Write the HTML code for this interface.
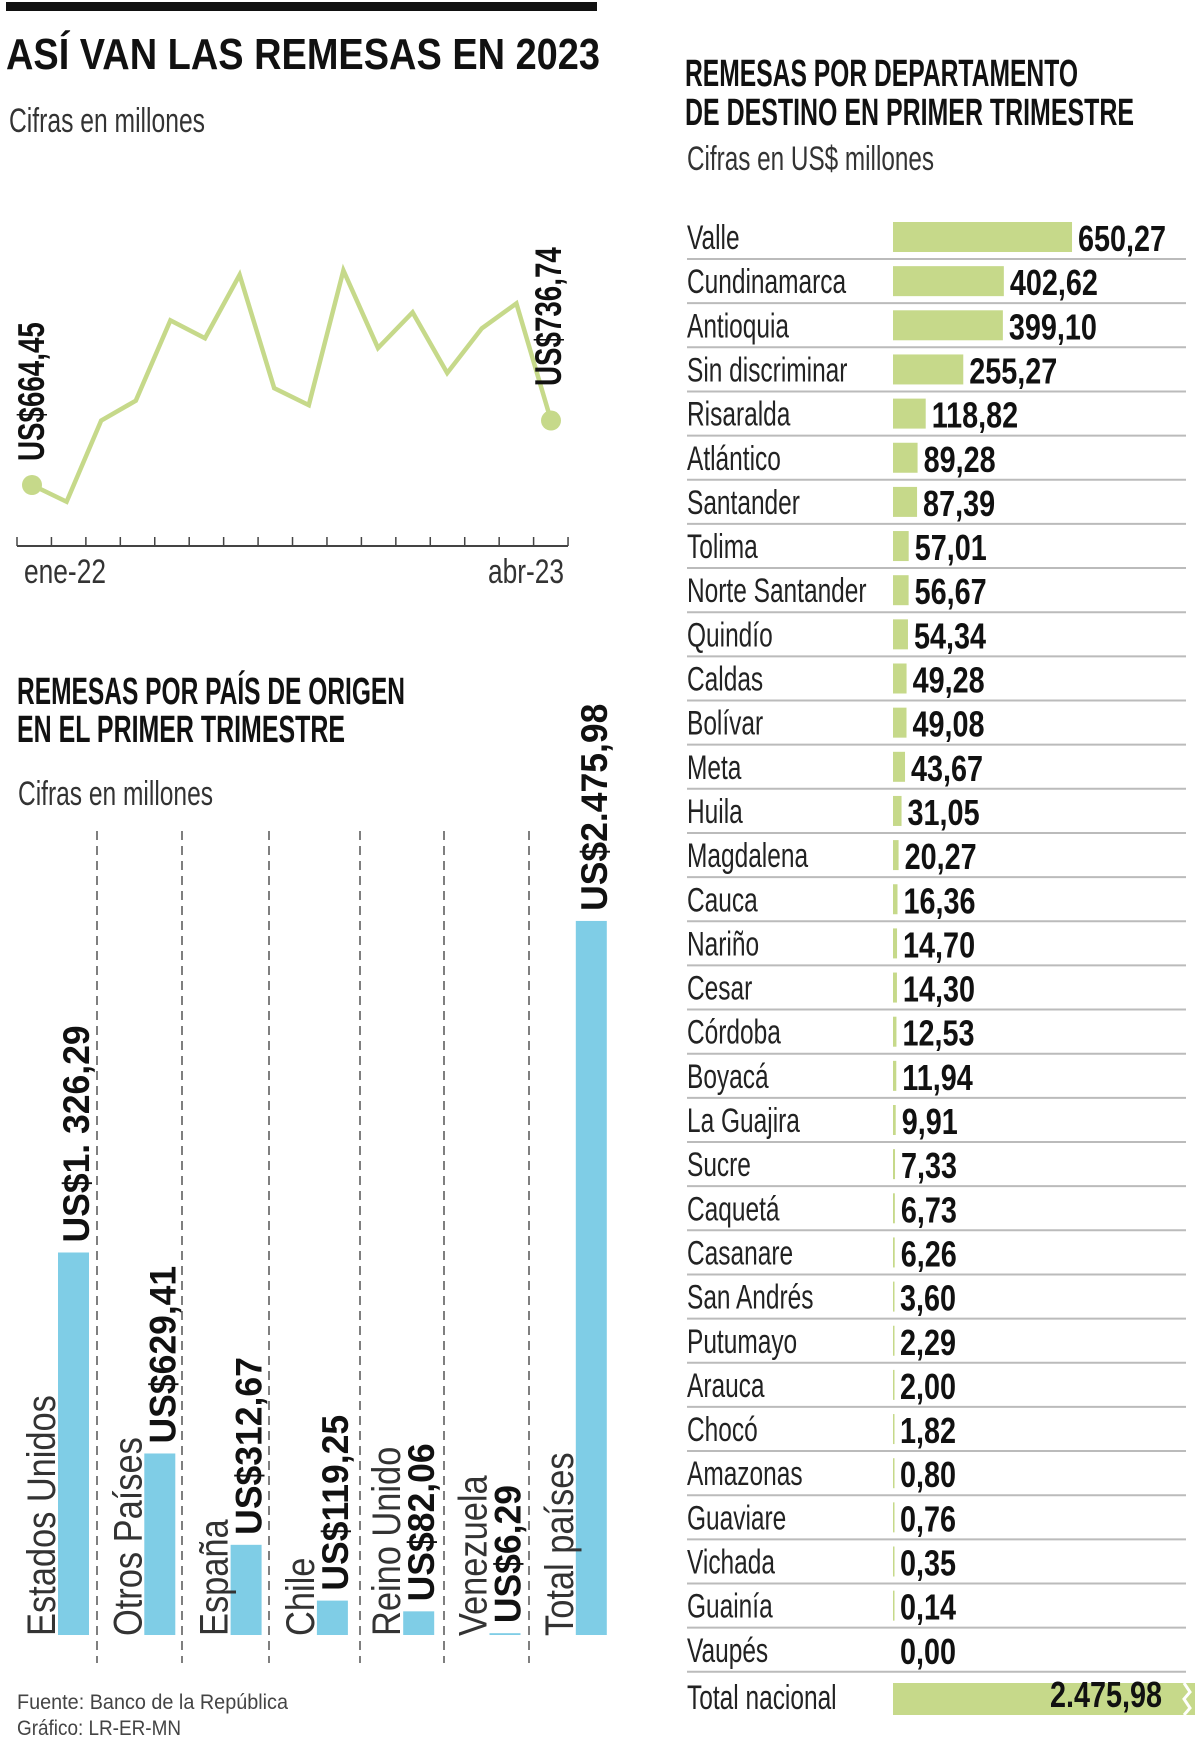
<!DOCTYPE html>
<html><head><meta charset="utf-8"><style>
html,body{margin:0;padding:0;background:#fff;}
svg{display:block;font-family:"Liberation Sans",sans-serif;}
</style></head><body>
<svg id="chart" width="1200" height="1758" viewBox="0 0 1200 1758">
<rect x="6" y="2" width="591" height="9" fill="#111"/>
<text x="6" y="69" font-size="44" font-weight="bold" fill="#111" textLength="594" lengthAdjust="spacingAndGlyphs">ASÍ VAN LAS REMESAS EN 2023</text>
<text x="9" y="132" font-size="34" fill="#333" textLength="196" lengthAdjust="spacingAndGlyphs">Cifras en millones</text>
<g id="line"></g>
<text x="17" y="704" font-size="38" font-weight="bold" fill="#111" textLength="388" lengthAdjust="spacingAndGlyphs">REMESAS POR PAÍS DE ORIGEN</text>
<text x="17" y="742" font-size="38" font-weight="bold" fill="#111" textLength="328" lengthAdjust="spacingAndGlyphs">EN EL PRIMER TRIMESTRE</text>
<text x="18" y="805" font-size="34" fill="#333" textLength="195" lengthAdjust="spacingAndGlyphs">Cifras en millones</text>
<g id="bars"></g>
<text x="17" y="1709" font-size="21" fill="#444" textLength="271" lengthAdjust="spacingAndGlyphs">Fuente: Banco de la República</text>
<text x="17" y="1735" font-size="21" fill="#444" textLength="164" lengthAdjust="spacingAndGlyphs">Gráfico: LR-ER-MN</text>
<text x="685" y="86" font-size="38" font-weight="bold" fill="#111" textLength="393" lengthAdjust="spacingAndGlyphs">REMESAS POR DEPARTAMENTO</text>
<text x="685" y="125" font-size="38" font-weight="bold" fill="#111" textLength="449" lengthAdjust="spacingAndGlyphs">DE DESTINO EN PRIMER TRIMESTRE</text>
<text x="687" y="170" font-size="34" fill="#333" textLength="247" lengthAdjust="spacingAndGlyphs">Cifras en US$ millones</text>
<g id="dept"></g>
</svg>
<script>
// Line chart data
const lineMonths = ["ene-22","feb-22","mar-22","abr-22","may-22","jun-22","jul-22","ago-22","sep-22","oct-22","nov-22","dic-22","ene-23","feb-23","mar-23","abr-23"];
const lineValues = [664.45,645.7,736.7,759,849,829,900,773,754,905,818,858,790,840,868,736.74];
const lineTickLabels = ["ene-22","abr-23"];
const lineEndLabels = ["US$664,45","US$736,74"];
// Origin bars
const originCountries = ["Estados Unidos","Otros Países","España","Chile","Reino Unido","Venezuela","Total países"];
const originValues = [1326.29,629.41,312.67,119.25,82.06,6.29,2475.98];
const originLabels = ["US$1. 326,29","US$629,41","US$312,67","US$119,25","US$82,06","US$6,29","US$2.475,98"];
// Departments
const deptNames = ["Valle","Cundinamarca","Antioquia","Sin discriminar","Risaralda","Atlántico","Santander","Tolima","Norte Santander","Quindío","Caldas","Bolívar","Meta","Huila","Magdalena","Cauca","Nariño","Cesar","Córdoba","Boyacá","La Guajira","Sucre","Caquetá","Casanare","San Andrés","Putumayo","Arauca","Chocó","Amazonas","Guaviare","Vichada","Guainía","Vaupés"];
const deptValues = [650.27,402.62,399.10,255.27,118.82,89.28,87.39,57.01,56.67,54.34,49.28,49.08,43.67,31.05,20.27,16.36,14.70,14.30,12.53,11.94,9.91,7.33,6.73,6.26,3.60,2.29,2.00,1.82,0.80,0.76,0.35,0.14,0.00];
const deptTotalLabel = "Total nacional";
const deptTotalValue = 2475.98;

const NS="http://www.w3.org/2000/svg";
function mk(tag,attrs,parent){const e=document.createElementNS(NS,tag);for(const k in attrs)e.setAttribute(k,attrs[k]);parent.appendChild(e);return e;}
function fmt(v){return v.toFixed(2).replace('.',',');}
function fmtThousands(v){const p=v.toFixed(2).split('.');return p[0].replace(/\B(?=(\d{3})+(?!\d))/g,'.')+','+p[1];}

// ---- line chart
const lg=document.getElementById('line');
const lx=i=>32+34.6*i;
const ly=v=>485-(v-664.45)*0.892;
const axis=mk('line',{x1:17,y1:546,x2:568,y2:546,stroke:'#444','stroke-width':2},lg);


for(let k=0;k<=lineMonths.length;k++){
  const t=mk('line',{x1:17+34.44*k,y1:537,x2:17+34.44*k,y2:546,stroke:'#444','stroke-width':1.5},lg);
  
  
}
const pl=mk('polyline',{points:lineValues.map((v,i)=>lx(i)+','+ly(v)).join(' '),fill:'none',stroke:'#c6d98a','stroke-width':4.5,'stroke-linejoin':'miter'},lg);


[0,lineValues.length-1].forEach((i,j)=>{
  const c=mk('circle',{cx:lx(i),cy:ly(lineValues[i]),r:10,fill:'#c6d98a'},lg);
  
  
  const bx=j===0?44:561, by=j===0?461:386;
  const t=mk('text',{transform:`translate(${bx},${by}) rotate(-90) scale(0.75,1)`,'font-size':37,'font-weight':'bold',fill:'#111'},lg);
  t.textContent=lineEndLabels[j];
  
  
});
[[0,24,82],[lineMonths.length-1,488,76]].forEach(([i,x,w],j)=>{
  const t=mk('text',{x:x,y:583,'font-size':34,fill:'#333',textLength:w,lengthAdjust:'spacingAndGlyphs'},lg);
  t.textContent=lineTickLabels[j];
  
  
});

// ---- origin bars
const bg=document.getElementById('bars');
const base=1635, scaleB=0.2884;
[97,182,269,360,444,529].forEach(x=>{
  const d=mk('line',{x1:x,y1:831,x2:x,y2:1663,stroke:'#555','stroke-width':1.5,'stroke-dasharray':'9,6'},bg);
  
  
});
originCountries.forEach((c,i)=>{
  const x=58+86.3*i, w=31, h=originValues[i]*scaleB;
  const r=mk('rect',{x:x,y:base-h,width:w,height:h,fill:'#7fcde6'},bg);
  
  
  const lt=mk('text',{transform:`translate(${x-3},1636) rotate(-90) scale(0.86,1)`,'font-size':40,fill:'#333'},bg);
  lt.textContent=c;
  
  
  const vt=mk('text',{transform:`translate(${x+w},${base-h-10}) rotate(-90) scale(0.96,1)`,'font-size':37,'font-weight':'bold',fill:'#111'},bg);
  vt.textContent=originLabels[i];
  
  
});

// ---- departments
const dg=document.getElementById('dept');
const dx0=893, ds=0.2753, pitch=44.15, sep0=259;
deptNames.forEach((n,i)=>{
  const sy=sep0+pitch*i;
  const s=mk('line',{x1:687,y1:sy,x2:1186,y2:sy,stroke:'#bbb','stroke-width':2},dg);
  
  
  const nt=mk('text',{transform:`translate(687,${sy-10}) scale(0.72,1)`,'font-size':34,fill:'#222'},dg);
  nt.textContent=n;
  
  
  const w=deptValues[i]*ds;
  const r=mk('rect',{x:dx0,y:sy-37,width:Math.max(w,deptValues[i]>0?1.5:0),height:30,fill:'#c6d98a'},dg);
  
  
  const vt=mk('text',{transform:`translate(${dx0+Math.max(w,1)+6},${sy-8}) scale(0.8,1)`,'font-size':36,'font-weight':'bold',fill:'#111'},dg);
  vt.textContent=fmt(deptValues[i]);
  
  
});
const tr=mk('rect',{x:dx0,y:1683,width:Math.min(deptTotalValue*ds,1195-dx0),height:32,fill:'#c6d98a'},dg);


const zz=mk('polyline',{points:'1184,1683 1190,1692 1184,1699 1190,1708 1184,1715',fill:'none',stroke:'#fff','stroke-width':3},dg);


const tn=mk('text',{transform:'translate(687,1709) scale(0.72,1)','font-size':34,fill:'#222'},dg);
tn.textContent=deptTotalLabel;


const tv=mk('text',{transform:'translate(1162,1707) scale(0.8,1)','font-size':36,'font-weight':'bold',fill:'#111','text-anchor':'end'},dg);
tv.textContent=fmtThousands(deptTotalValue);


</script>
</body></html>
